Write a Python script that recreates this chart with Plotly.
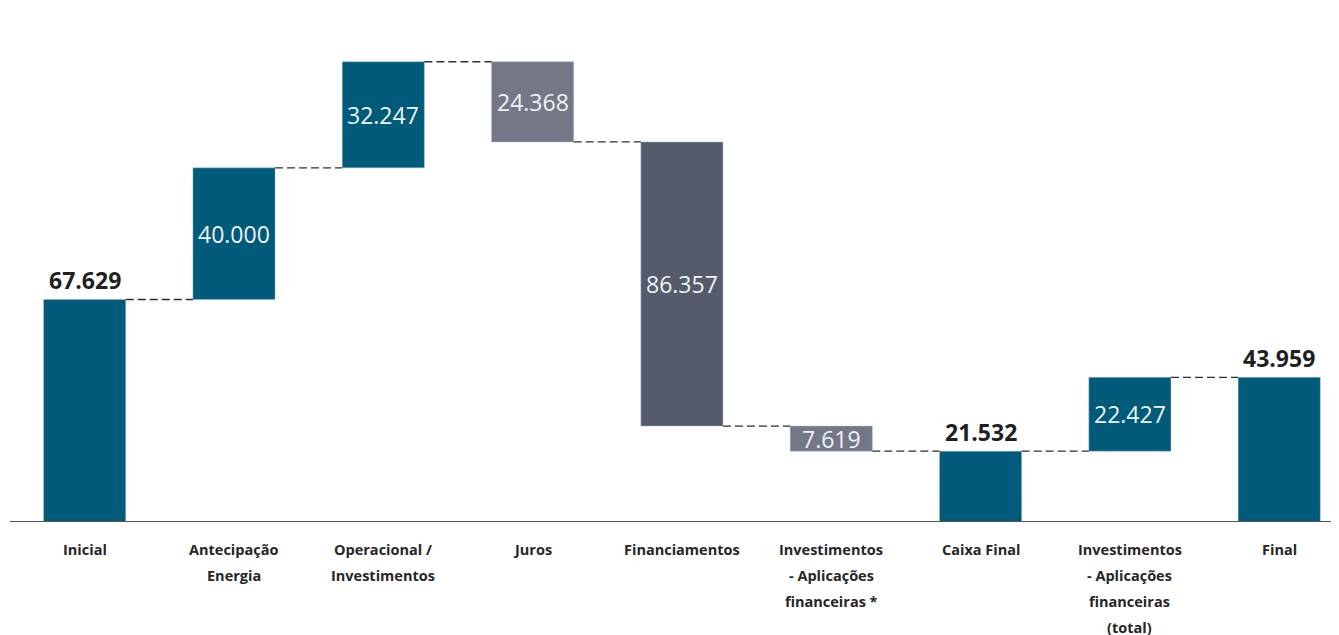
import plotly.graph_objects as go

categories = [
    "Inicial",
    "Antecipação<br>Energia",
    "Operacional /<br>Investimentos",
    "Juros",
    "Financiamentos",
    "Investimentos<br>- Aplicações<br>financeiras *",
    "Caixa Final",
    "Investimentos<br>- Aplicações<br>financeiras<br>(total)",
    "Final",
]
values = [67629, 40000, 32247, -24368, -86357, -7619, 21532, 22427, 43959]
measures = ["total", "relative", "relative", "relative", "relative", "relative",
            "total", "relative", "total"]

TEAL = "#005A7A"
GREY = "#747785"
DARK = "#555B6A"
bar_colors = [TEAL, TEAL, TEAL, GREY, DARK, GREY, TEAL, TEAL, TEAL]

def fmt(v):
    return f"{abs(v):,}".replace(",", ".")

# compute bases and heights (units: thousands)
bases, heights, ends = [], [], []
running = 0.0
for v, m in zip(values, measures):
    v = v / 1000.0
    if m == "total":
        bases.append(0.0)
        heights.append(v)
        running = v
    else:
        if v >= 0:
            bases.append(running)
            heights.append(v)
        else:
            bases.append(running + v)
            heights.append(-v)
        running += v
    ends.append(running)

xs = list(range(len(categories)))
BW = 0.55

fig = go.Figure()
fig.add_trace(go.Bar(
    x=xs, y=heights, base=bases, width=BW,
    marker=dict(color=bar_colors, line=dict(color="rgba(160,190,210,0.6)", width=0.8)),
    hoverinfo="skip", showlegend=False,
))

# connectors
cx, cy = [], []
for i in range(len(xs) - 1):
    cx += [xs[i] + BW / 2, xs[i + 1] - BW / 2, None]
    cy += [ends[i], ends[i], None]
fig.add_trace(go.Scatter(
    x=cx, y=cy, mode="lines",
    line=dict(color="#2e2e2e", width=1.4, dash="8px,4px"),
    hoverinfo="skip", showlegend=False,
))

annotations = []
for i, (v, m) in enumerate(zip(values, measures)):
    if m == "total":
        annotations.append(dict(
            x=xs[i], y=bases[i] + heights[i], xref="x", yref="y",
            text=f"<b>{fmt(v)}</b>", showarrow=False, yanchor="bottom", yshift=1,
            font=dict(family="Open Sans", size=23, color="#1f1f1f"),
        ))
    else:
        annotations.append(dict(
            x=xs[i], y=bases[i] + heights[i] / 2, xref="x", yref="y",
            text=fmt(v), showarrow=False, yanchor="middle",
            font=dict(family="Open Sans", size=23, color="#EEF2F6"),
        ))

# category labels (each line placed separately for wider line spacing)
for i, lab in enumerate(categories):
    for j, line in enumerate(lab.split("<br>")):
        annotations.append(dict(
            x=xs[i], y=0, xref="x", yref="y",
            text=f"<b>{line}</b>", showarrow=False, yanchor="middle",
            yshift=-27 - 26 * j,
            font=dict(family="Open Sans", size=14.5, color="#262626"),
        ))

fig.update_layout(
    width=1339, height=635,
    margin=dict(l=2, r=0, t=2, b=121),
    plot_bgcolor="white", paper_bgcolor="white",
    xaxis=dict(range=[-0.5, 8.454], showticklabels=False, showgrid=False,
               zeroline=False, showline=False, ticks="", fixedrange=True),
    yaxis=dict(range=[0, 155.6], visible=False, showgrid=False, zeroline=False),
    annotations=annotations,
    shapes=[dict(type="line", xref="paper", yref="y", x0=0, x1=1, y0=0, y1=0,
                 line=dict(color="#555555", width=2))],
    bargap=0.45,
)

fig.write_html("out.html")
